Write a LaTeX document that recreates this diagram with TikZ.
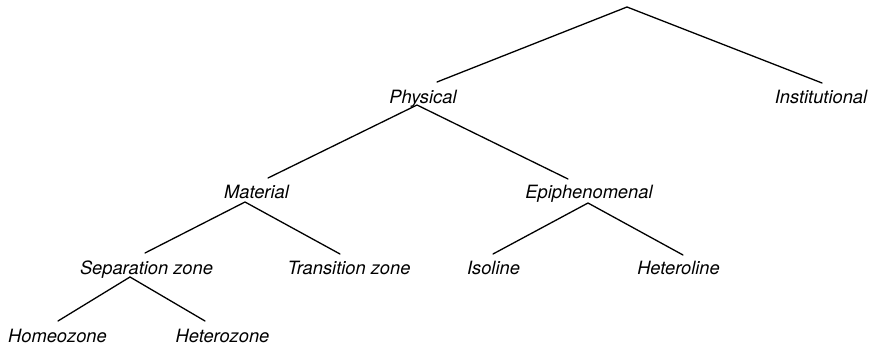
\documentclass[tikz,border=0pt]{standalone}
\usepackage{fontspec}
\setmainfont{TeX Gyre Heros}
\begin{document}
\begin{tikzpicture}[x=1pt,y=-1pt,
  lbl/.style={anchor=base,inner sep=0pt,font=\fontsize{18.3}{22}\selectfont\itshape},
  branch/.style={line width=1.3pt,line cap=round}]
\useasboundingbox (0,0) rectangle (877,347);
% labels
\node[lbl] (phys) at (423,103.5) {Physical};
\node[lbl] (inst) at (821,103.5) {Institutional};
\node[lbl] (mat) at (256.5,198.5) {Material};
\node[lbl] (epi) at (589,198.5) {Epiphenomenal};
\node[lbl] (sep) at (146.5,274.5) {Separation zone};
\node[lbl] (trans) at (349,274.5) {Transition zone};
\node[lbl] (iso) at (493.5,274.5) {Isoline};
\node[lbl] (het) at (678.5,274.5) {Heteroline};
\node[lbl] (homeo) at (57.5,342) {Homeozone};
\node[lbl] (hetz) at (222.5,342) {Heterozone};
% connection points
\coordinate (root) at (627,7);
\coordinate (physT) at (437,82);
\coordinate (instT) at (822,83);
\coordinate (physB) at (417,105);
\coordinate (matT) at (268,178);
\coordinate (epiT) at (568,179);
\coordinate (matB) at (245,202);
\coordinate (sepT) at (145,253);
\coordinate (transT) at (340,254);
\coordinate (epiB) at (588,203);
\coordinate (isoT) at (493,254);
\coordinate (hetT) at (683,255);
\coordinate (sepB) at (130,277);
\coordinate (homeoT) at (58,321);
\coordinate (hetzT) at (205,321);
% branches
\draw[branch] (physT) -- (root) -- (instT);
\draw[branch] (matT) -- (physB) -- (epiT);
\draw[branch] (sepT) -- (matB) -- (transT);
\draw[branch] (isoT) -- (epiB) -- (hetT);
\draw[branch] (homeoT) -- (sepB) -- (hetzT);
\end{tikzpicture}
\end{document}
